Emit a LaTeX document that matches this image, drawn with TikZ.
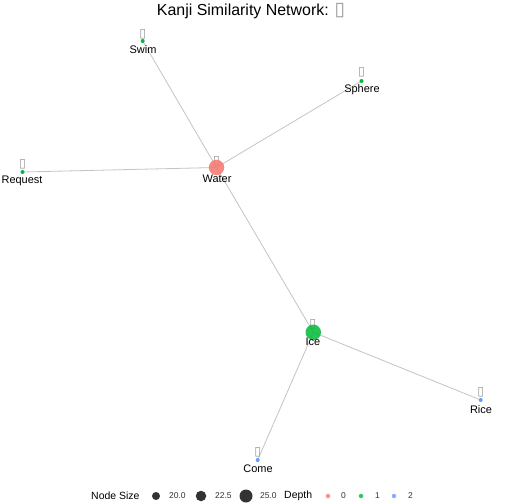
\documentclass[tikz,border=0pt]{standalone}
\usepackage{fontspec}
\setmainfont{Liberation Sans}
\newfontfamily\symfont{DejaVu Sans}
\definecolor{d0}{HTML}{F8766D}
\definecolor{d1}{HTML}{00BA38}
\definecolor{d2}{HTML}{619CFF}
\definecolor{edgegray}{HTML}{C4C4C4}
\definecolor{tofugray}{HTML}{9A9A9A}
\begin{document}
\begin{tikzpicture}[x=1bp,y=-1bp,
  edge/.style={draw=edgegray,line width=0.8bp},
  bignode/.style={circle,inner sep=0pt,minimum size=15.5bp,fill opacity=0.85},
  smallnode/.style={circle,inner sep=0pt,minimum size=4bp},
  lbl/.style={font=\fontsize{11}{13}\selectfont,inner sep=0pt,anchor=center},
  tofu/.style={font=\symfont\fontsize{12.5}{13}\selectfont,text=tofugray,inner sep=0pt,anchor=center},
  legtitle/.style={font=\fontsize{10.5}{12}\selectfont,inner sep=0pt,anchor=west},
  legnum/.style={font=\fontsize{8.5}{10}\selectfont,inner sep=0pt,anchor=west,text=black!80},
  legdot/.style={circle,inner sep=0pt,fill=black!80}]
\useasboundingbox (0,0) rectangle (504,504);
\fill[white] (0,0) rectangle (504,504);
% title
\node[font=\fontsize{16}{18}\selectfont,inner sep=0pt] (title) at (251,11) {Kanji Similarity Network: {\symfont\fontsize{19}{20}\selectfont\color{tofugray}▯}};
% centres
\coordinate (cwater) at (216.5,167.5);
\coordinate (cice) at (313.3,332.3);
\coordinate (cswim) at (142.7,41);
\coordinate (csphere) at (361.5,81);
\coordinate (crequest) at (22.5,172);
\coordinate (crice) at (480.7,400);
\coordinate (ccome) at (257.7,460);
% edges
\draw[edge] (cwater) -- (cswim);
\draw[edge] (cwater) -- (csphere);
\draw[edge] (cwater) -- (crequest);
\draw[edge] (cwater) -- (cice);
\draw[edge] (cice) -- (crice);
\draw[edge] (cice) -- (ccome);
% kanji boxes
\node[tofu] (kwater) at (216.5,161) {▯};
\node[tofu] (kice) at (312.8,324.5) {▯};
\node[tofu] (kswim) at (142.7,34) {▯};
\node[tofu] (ksphere) at (361.5,72.5) {▯};
\node[tofu] (krequest) at (22.5,164) {▯};
\node[tofu] (krice) at (480.7,392) {▯};
\node[tofu] (kcome) at (257.7,452) {▯};
% nodes
\node[bignode,fill=d0] (water) at (cwater) {};
\node[bignode,fill=d1] (ice) at (cice) {};
\node[smallnode,fill=d1] (swim) at (cswim) {};
\node[smallnode,fill=d1] (sphere) at (csphere) {};
\node[smallnode,fill=d1] (request) at (crequest) {};
\node[smallnode,fill=d2] (rice) at (crice) {};
\node[smallnode,fill=d2] (come) at (ccome) {};
% labels
\node[lbl] (lwater) at (217,178.5) {Water};
\node[lbl] (lice) at (313,342) {Ice};
\node[lbl] (lswim) at (143,49.5) {Swim};
\node[lbl] (lsphere) at (362,89.5) {Sphere};
\node[lbl] (lrequest) at (22,181) {Request};
\node[lbl] (lrice) at (481,409.5) {Rice};
\node[lbl] (lcome) at (258,469) {Come};
% legend
\node[legtitle] (lgsize) at (91,496) {Node Size};
\node[legdot,minimum size=8bp] (s1) at (156,496) {};
\node[legnum] (n1) at (169,496) {20.0};
\node[legdot,minimum size=10.5bp] (s2) at (201,496) {};
\node[legnum] (n2) at (215,496) {22.5};
\node[legdot,minimum size=13bp] (s3) at (246,496) {};
\node[legnum] (n3) at (260,496) {25.0};
\node[legtitle] (lgdepth) at (284,496) {Depth};
\node[circle,inner sep=0pt,minimum size=4.5bp,fill=d0,fill opacity=0.8] (dp0) at (328,496) {};
\node[legnum] (t0) at (341,496) {0};
\node[circle,inner sep=0pt,minimum size=4.5bp,fill=d1,fill opacity=0.8] (dp1) at (361,496) {};
\node[legnum] (t1) at (375,496) {1};
\node[circle,inner sep=0pt,minimum size=4.5bp,fill=d2,fill opacity=0.8] (dp2) at (394,496) {};
\node[legnum] (t2) at (408,496) {2};
\end{tikzpicture}
\end{document}
